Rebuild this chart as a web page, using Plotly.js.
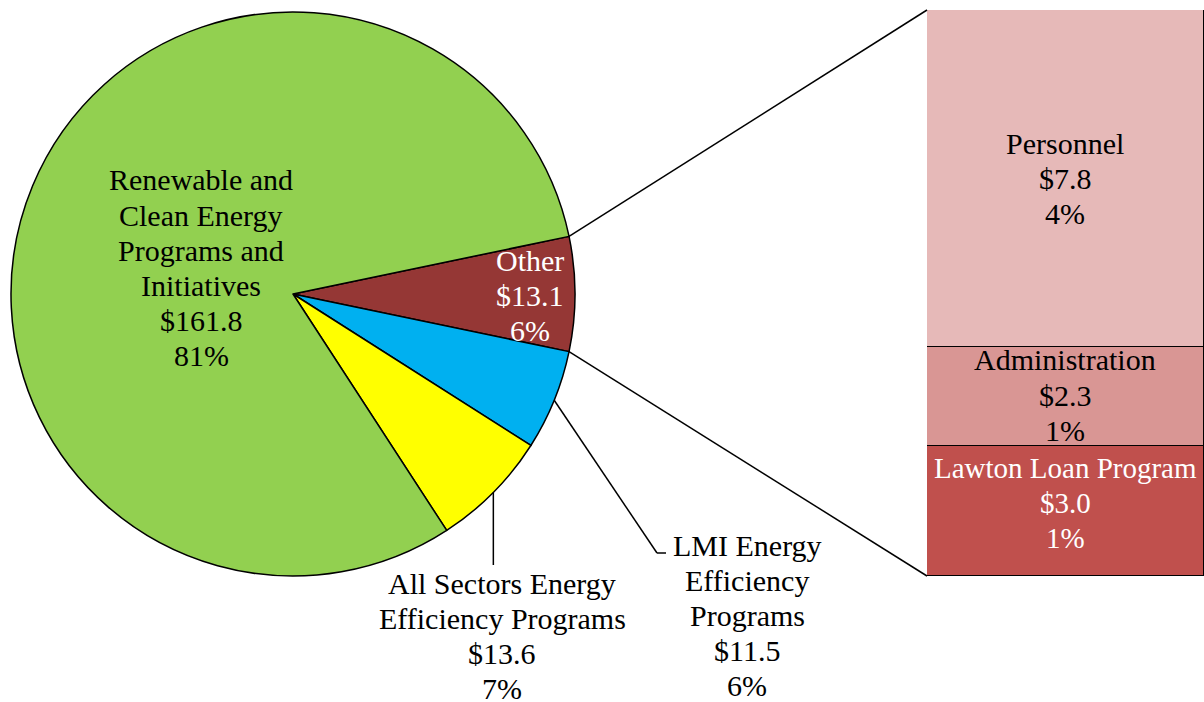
<!DOCTYPE html>
<html><head><meta charset="utf-8">
<script src="https://cdn.plot.ly/plotly-3.0.1.min.js"></script>
</head><body style="margin:0"><div id="chart" style="width:1204px;height:702px"></div>
<script>
// ---- data ----
const pieLabels = ['Other', 'LMI Energy Efficiency Programs', 'All Sectors Energy Efficiency Programs', 'Renewable and Clean Energy Programs and Initiatives'];
const pieLabelLines = [['Other'], ['LMI Energy', 'Efficiency', 'Programs'], ['All Sectors Energy', 'Efficiency Programs'], ['Renewable and', 'Clean Energy', 'Programs and', 'Initiatives']];
const pieValues = [13.1, 11.5, 13.6, 161.8];
const piePercents = ['6%', '6%', '7%', '81%'];
const pieColors = ['#953735', '#00B0F0', '#FFFF00', '#92D050'];
const pieTextColors = ['#FFFFFF', '#000000', '#000000', '#000000'];

const barLabels = ['Personnel', 'Administration', 'Lawton Loan Program'];
const barValues = [7.8, 2.3, 3.0];
const barPercents = ['4%', '1%', '1%'];
const barColors = ['#E6B9B8', '#D99694', '#C0504D'];
const barTextColors = ['#000000', '#000000', '#FFFFFF'];

// ---- layout geometry (pixels) ----
const W = 1204, H = 702;
const CX = 293, CY = 294, R = 282;
const BAR_X0 = 927, BAR_TOP = 10, BAR_BOT = 576;
const FONT = 'Liberation Serif';
const FS = 30, LS = 35;

const pieLabelPos = [[530, 260], [747, 545], [502, 583], [201, 180]];
const barLabelPos = [[1065, 143], [1065, 360], [1065, 468]];
const barLabelSize = [FS, FS, 29];

const px = x => x / W;
const py = y => 1 - y / H;

const total = pieValues.reduce((a, b) => a + b, 0);
const otherFrac = pieValues[0] / total;
const rotation = 90 - otherFrac * 180;

function edgePoint(angDeg) {
  const a = angDeg * Math.PI / 180;
  return [CX + R * Math.sin(a), CY - R * Math.cos(a)];
}
const sliceStart = [], sliceMid = [];
let acc = rotation;
pieValues.forEach(v => {
  sliceStart.push(acc);
  sliceMid.push(acc + v / total * 180);
  acc += v / total * 360;
});

const pieTrace = {
  type: 'pie', labels: pieLabels, values: pieValues, sort: false,
  direction: 'clockwise', rotation: rotation,
  marker: {colors: pieColors, line: {color: '#000000', width: 1.5}},
  textinfo: 'none', hoverinfo: 'label+value',
  domain: {x: [px(CX - R), px(CX + R)], y: [py(CY + R), py(CY - R)]},
  showlegend: false
};

const barTraces = [];
for (let i = barLabels.length - 1; i >= 0; i--) {
  barTraces.push({
    type: 'bar', x: ['Other'], y: [barValues[i]], name: barLabels[i],
    marker: {color: barColors[i], line: {color: '#000000', width: 1.5}},
    width: 1, hoverinfo: 'name+y', showlegend: false
  });
}
const barTotal = barValues.reduce((a, b) => a + b, 0);

const annotations = [];
function addBlock(lines, pos, color, size) {
  lines.forEach((t, k) => {
    annotations.push({
      xref: 'paper', yref: 'paper', x: px(pos[0]), y: py(pos[1] + k * LS),
      xanchor: 'center', yanchor: 'middle', showarrow: false,
      text: t, font: {family: FONT, size: size, color: color}
    });
  });
}
pieLabelLines.forEach((lines, i) => {
  addBlock(lines.concat(['$' + pieValues[i].toFixed(1), piePercents[i]]), pieLabelPos[i], pieTextColors[i], FS);
});
barLabels.forEach((lab, i) => {
  addBlock([lab, '$' + barValues[i].toFixed(1), barPercents[i]], barLabelPos[i], barTextColors[i], barLabelSize[i]);
});

const shapes = [];
function seg(p, q) {
  shapes.push({type: 'line', xref: 'paper', yref: 'paper',
    x0: px(p[0]), y0: py(p[1]), x1: px(q[0]), y1: py(q[1]),
    line: {color: '#000000', width: 1.5}});
}
seg(edgePoint(sliceStart[0]), [BAR_X0, BAR_TOP]);
seg(edgePoint(sliceStart[1]), [BAR_X0, BAR_BOT]);
const lmiEdge = edgePoint(sliceMid[1]);
seg(lmiEdge, [657, 553]);
seg([657, 553], [666, 553]);
const asEdge = edgePoint(sliceMid[2]);
seg(asEdge, [asEdge[0], 565]);

const layout = {
  width: W, height: H,
  margin: {l: 0, r: 0, t: 0, b: 0, pad: 0},
  barmode: 'stack', bargap: 0, showlegend: false,
  xaxis: {domain: [px(BAR_X0), 1], range: [-0.5, 0.5], visible: false},
  yaxis: {domain: [py(BAR_BOT), py(BAR_TOP)], range: [0, barTotal], visible: false},
  annotations: annotations, shapes: shapes
};
Plotly.newPlot('chart', [pieTrace].concat(barTraces), layout, {displayModeBar: false});
</script>
</body></html>
